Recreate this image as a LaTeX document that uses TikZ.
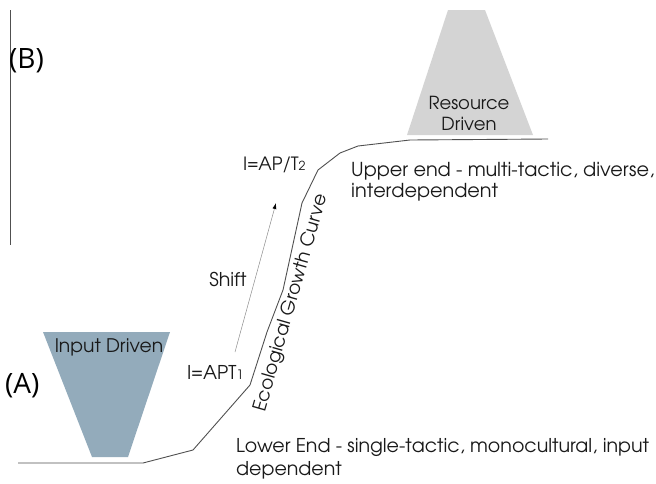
\documentclass[tikz,border=0pt]{standalone}
\usetikzlibrary{arrows.meta}
\usepackage[T1]{fontenc}
\usepackage{fontspec}
\newfontfamily\abfont{Open Sans}
\newcommand\gothic{\fontencoding{T1}\fontfamily{pag}\selectfont}
\definecolor{lineg}{HTML}{505050}
\definecolor{bluefill}{HTML}{93ABBB}
\definecolor{grayfill}{HTML}{D4D4D4}
\begin{document}
\begin{tikzpicture}[x=1pt,y=-1pt,
  txt/.style={inner sep=0pt,font=\gothic\fontsize{19}{23}\selectfont,text=black!90},
  lbl/.style={inner sep=0pt,font=\gothic\fontsize{19}{20}\selectfont,text=black!90},
  curve/.style={draw=lineg,line width=0.9pt,line join=round}]
\useasboundingbox (0,0) rectangle (656,483);
% vertical axis line
\coordinate (vtop) at (10,10);
\coordinate (vbot) at (10,245);
\draw[lineg,line width=1pt] (vtop) -- (vbot);
\node[inner sep=0pt,font=\abfont\fontsize{28}{28}\selectfont,anchor=west] (B) at (9,61) {(B)};
\node[inner sep=0pt,font=\abfont\fontsize{28}{28}\selectfont,anchor=west] (A) at (5,386) {(A)};
% trapezoids
\fill[bluefill] (43,332) -- (170,332) -- (128,457) -- (92,457) -- cycle;
\fill[grayfill] (448,10) -- (485,10) -- (533,135) -- (407,135) -- cycle;
\node[lbl,font=\gothic\fontsize{18.7}{20}\selectfont] (inp) at (109,347) {Input Driven};
\node[lbl,align=center,font=\gothic\fontsize{18}{21}\selectfont] (res) at (469,113) {Resource\\Driven};
% growth curve
\draw[curve] (18,463) -- (143,463) -- (193,450) -- (250,385) -- (267,332)
  -- (283,290) -- (302,203) -- (318,170) -- (340,153) -- (358,146)
  -- (410,140) -- (548,139);
% shift arrow
\coordinate (s1) at (235,352);
\coordinate (s2) at (276,203);
\draw[black!45,line width=0.5pt,-{Latex[length=6pt,width=4pt,black]}] (s1) -- (s2);
\node[lbl,anchor=west] (t1) at (187,372) {I=APT{\fontsize{13}{13}\selectfont 1}};
\node[lbl,anchor=west,font=\gothic\fontsize{18.3}{20}\selectfont] (t2) at (243,165) {I=AP/T{\fontsize{12.5}{12.5}\selectfont 2}};
\node[lbl] (shift) at (228,280) {Shift};
\node[lbl,rotate=74,font=\gothic\fontsize{18.5}{20}\selectfont] (egc) at (291,303) {Ecological Growth Curve};
% descriptions
\node[txt,anchor=west,align=left,font=\gothic\fontsize{19.2}{21}\selectfont] (upper) at (351,182) {Upper end - multi-tactic, diverse,\\interdependent};
\node[txt,anchor=west,align=left] (lower) at (236,459) {Lower End - single-tactic, monocultural, input\\dependent};
\end{tikzpicture}
\end{document}
